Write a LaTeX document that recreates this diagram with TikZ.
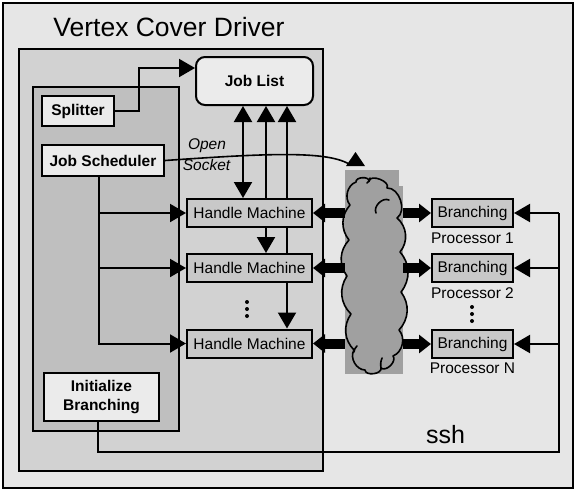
\documentclass[tikz,border=0pt]{standalone}
\usepackage{fontspec}
\setmainfont{Liberation Sans}
\usetikzlibrary{arrows.meta}
\pgfdeclarelayer{frames}
\pgfdeclarelayer{under}
\pgfsetlayers{frames,under,main}
\definecolor{bgouter}{HTML}{E6E6E6}
\definecolor{bgdriver}{HTML}{D2D2D2}
\definecolor{bginner}{HTML}{BFBFBF}
\definecolor{boxlight}{HTML}{EBEBEB}
\definecolor{boxmid}{HTML}{C8C8C8}
\definecolor{cloudgray}{HTML}{A0A0A0}
\tikzset{
  lightbox/.style={draw, line width=2pt, fill=boxlight, inner sep=0pt,
    font=\bfseries\fontsize{15.5}{19}\selectfont, align=center},
  midbox/.style={draw, line width=2pt, fill=boxmid, inner sep=0pt,
    minimum height=28pt, font=\fontsize{15.5}{18}\selectfont},
  hmbox/.style={midbox, minimum width=125pt},
  brbox/.style={midbox, minimum width=81pt},
  lbl/.style={inner sep=0pt, font=\fontsize{15.5}{18}\selectfont},
  conn/.style={line width=2pt},
  arr/.style={conn, -{Triangle[width=18pt,length=16pt]}},
  darr/.style={conn, {Triangle[width=18pt,length=16pt]}-{Triangle[width=18pt,length=16pt]}},
  fat/.style={line width=10pt, -{Triangle[width=18pt,length=12pt]}},
  frame/.style={draw, line width=2pt},
  dot/.style={fill, circle, inner sep=0pt, minimum size=4pt},
  cloudline/.style={line width=1.6pt, line join=round, line cap=round}
}
\begin{document}
\begin{tikzpicture}[x=1pt,y=-1pt]
\useasboundingbox (0,0) rectangle (576,491);
\begin{pgfonlayer}{frames}
  \fill[white] (0,0) rectangle (576,491);
  \draw[frame, fill=bgouter, line width=1.5pt] (3,3) rectangle (573,488);
  \draw[frame, fill=bgdriver] (19,49) rectangle (323,471);
  \draw[frame, fill=bginner] (33,87) rectangle (179,431);
\end{pgfonlayer}

\node[inner sep=0pt, font=\fontsize{26.5}{30}\selectfont] (title) at (169,27) {Vertex Cover Driver};

% left column
\node[lightbox, minimum width=72pt, minimum height=30pt] (split) at (78,111) {Splitter};
\node[lightbox, minimum width=122pt, minimum height=31pt] (sched) at (103,160.5) {Job Scheduler};
\node[lightbox, minimum width=115pt, minimum height=48pt] (init) at (101.5,397) {Initialize\\Branching};

% job list
\node[lightbox, rounded corners=9pt, minimum width=117pt, minimum height=48pt] (joblist) at (254.5,81) {Job List};

% handle machines
\node[hmbox] (hm1) at (249.5,213) {Handle Machine};
\node[hmbox] (hm2) at (249.5,268) {Handle Machine};
\node[hmbox] (hm3) at (249.5,343.5) {Handle Machine};
\node[dot] (hd1) at (247,302) {};
\node[dot] (hd2) at (247,309) {};
\node[dot] (hd3) at (247,316) {};

% branching processors
\node[brbox] (bp1) at (472.5,213) {Branching};
\node[brbox] (bp2) at (472.5,268) {Branching};
\node[brbox] (bp3) at (472.5,344) {Branching};
\node[lbl] (pl1) at (472.5,238) {Processor 1};
\node[lbl] (pl2) at (472.5,293) {Processor 2};
\node[lbl] (pl3) at (472.5,368) {Processor N};
\node[dot] (pd1) at (472,307) {};
\node[dot] (pd2) at (472,314) {};
\node[dot] (pd3) at (472,321) {};

% network cloud
\node[fill=cloudgray, minimum width=58pt, minimum height=204pt, inner sep=0pt] (net) at (374,272) {};
\fill[bgouter] (398.5,169) rectangle (404,186);
\draw[cloudline, fill=cloudgray]
  (350,205) to[bend left=55] (356,182)
  to[bend left=95] (369,181)
  to[bend left=100] (387,188)
  to[bend left=75] (397,218)
  to[bend left=45] (400,252)
  to[bend left=40] (401,292)
  to[bend left=40] (399,330)
  to[bend left=55] (393,356)
  to[bend left=85] (381,368)
  to[bend left=95] (365,370)
  to[bend left=60] (354,350)
  to[bend left=40] (351,314)
  to[bend left=40] (347,276)
  to[bend left=40] (349,240)
  to[bend left=40] (350,205) -- cycle;
\draw[cloudline] (376,213) to[bend left=70] (389,200);
\draw[cloudline] (367,183) to[bend right=30] (370,178);
\draw[cloudline] (354,352) to[bend left=20] (357,346);
\draw[cloudline] (381,368) to[bend left=15] (382,358);

% job list links (pass behind handle machines)
\begin{pgfonlayer}{under}
  \draw[darr] (joblist.south -| 243,0) -- (hm1.north -| 243,0);
  \draw[darr] (joblist.south -| 266,0) -- (hm2.north -| 266,0);
  \draw[darr] (joblist.south -| 287,0) -- (hm3.north -| 287,0);
\end{pgfonlayer}

% splitter -> job list
\draw[arr] (split.east) -- ++(24,0) |- ([yshift=13pt]joblist.west);

% scheduler -> handle machines
\coordinate (t1) at (99,213);
\coordinate (t2) at (99,268);
\draw[arr] ([xshift=-4pt]sched.south) |- (hm3.west);
\draw[arr] (t1) -- (hm1.west);
\draw[arr] (t2) -- (hm2.west);

% open socket
\node[lbl, font=\itshape\fontsize{15.5}{18}\selectfont] (open) at (207,145.5) {Open};
\node[lbl, font=\itshape\fontsize{15.5}{18}\selectfont] (sock) at (206.5,164.5) {Socket};
\coordinate (sockend) at (349,164);
\draw[conn, line width=1.6pt] (sched.east) .. controls (260,154) and (325,150) .. (sockend);
\fill (355.5,152) -- (365,166) -- (346,166) -- cycle;

% network <-> machines
\draw[fat] (net.west |- hm1.east) -- (hm1.east);
\draw[fat] (net.west |- hm2.east) -- (hm2.east);
\draw[fat] (net.west |- hm3.east) -- (hm3.east);
\draw[fat] (net.east |- bp1.west) -- (bp1.west);
\draw[fat] (net.east |- bp2.west) -- (bp2.west);
\draw[fat] (net.east |- bp3.west) -- (bp3.west);

% ssh
\coordinate (s1) at (559,213);
\coordinate (s2) at (559,268);
\coordinate (s3) at (559,344);
\coordinate (sb) at (559,452);
\draw[conn] ([xshift=-3.5pt]init.south) |- (sb) -- (s1);
\draw[arr] (s1) -- (bp1.east);
\draw[arr] (s2) -- (bp2.east);
\draw[arr] (s3) -- (bp3.east);
\node[inner sep=0pt, font=\fontsize{25}{30}\selectfont] (ssh) at (445.5,435) {ssh};
\end{tikzpicture}
\end{document}
